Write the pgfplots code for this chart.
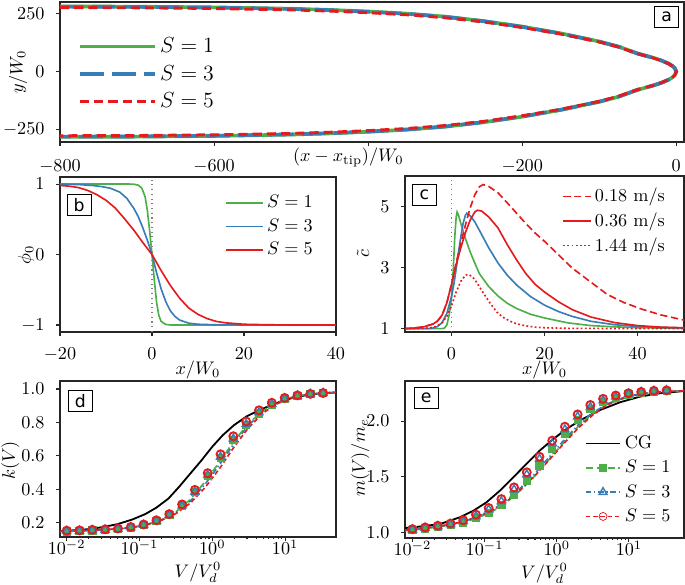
\documentclass[border=0pt]{standalone}
\usepackage{fontspec}
\usepackage{pgfplots}
\pgfplotsset{compat=1.18}
\usepackage{pgfplotstable}
\newfontfamily\lettersf{DejaVu Sans}
\definecolor{cgreen}{HTML}{4DAF4A}
\definecolor{cblue}{HTML}{377EB8}
\definecolor{cred}{HTML}{E41A1C}

\pgfplotstableread{
V s1 s3 s5
0.01 0.149 0.150 0.153
0.015 0.151 0.152 0.155
0.0225 0.154 0.155 0.158
0.03375 0.157 0.158 0.161
0.0506 0.162 0.163 0.166
0.0759 0.171 0.172 0.175
0.1139 0.186 0.187 0.190
0.1709 0.210 0.211 0.215
0.2563 0.248 0.247 0.252
0.3844 0.303 0.302 0.310
0.5767 0.385 0.385 0.397
0.8650 0.480 0.485 0.497
1.2975 0.590 0.595 0.610
1.9462 0.695 0.703 0.718
2.9193 0.785 0.790 0.806
4.3789 0.855 0.860 0.873
6.5684 0.906 0.910 0.918
9.8526 0.940 0.942 0.947
14.779 0.958 0.960 0.962
22.168 0.969 0.970 0.971
33.253 0.975 0.976 0.976
}\dtab

\pgfplotstableread{
V s1 s3 s5
0.01 1.020 1.025 1.030
0.015 1.035 1.040 1.045
0.0225 1.050 1.055 1.060
0.03375 1.065 1.073 1.080
0.0506 1.090 1.100 1.110
0.0759 1.130 1.145 1.160
0.1139 1.175 1.205 1.220
0.1709 1.245 1.280 1.300
0.2563 1.335 1.385 1.405
0.3844 1.460 1.520 1.540
0.5767 1.600 1.660 1.680
0.8650 1.750 1.800 1.825
1.2975 1.885 1.925 1.950
1.9462 2.010 2.040 2.060
2.9193 2.110 2.125 2.145
4.3789 2.170 2.185 2.200
6.5684 2.210 2.220 2.230
9.8526 2.240 2.245 2.250
14.779 2.255 2.260 2.262
22.168 2.265 2.270 2.272
33.253 2.270 2.275 2.276
}\etab

\pgfplotsset{
  every axis/.append style={
    scale only axis,
    axis line style={black!85, line width=0.6pt},
    tick align=outside,
    tick pos=left,
    major tick length=2pt,
    minor tick length=1.2pt,
    every tick/.style={black!85, line width=0.6pt},
    yticklabel style={xshift=-3pt},
  },
  legSone/.style={legend image code/.code={\draw[cgreen, line width=0.9pt, dash pattern=on 4pt off 2pt] (0pt,0pt) -- (19pt,0pt);
    \draw[##1] plot coordinates {(9.5pt,0pt)};}},
  legSthree/.style={legend image code/.code={\draw[cblue, line width=0.9pt, dash pattern=on 3pt off 1.5pt on 0.8pt off 1.5pt] (0pt,0pt) -- (19pt,0pt);
    \draw[##1] plot coordinates {(9.5pt,0pt)};}},
  legSfive/.style={legend image code/.code={\draw[cred, line width=0.9pt, dash pattern=on 2.5pt off 1.5pt] (0pt,0pt) -- (19pt,0pt);
    \draw[##1, mark options={fill=white}] plot coordinates {(9.5pt,0pt)};}},
}
\tikzset{
  panel/.style={draw=black, line width=0.5pt, font=\lettersf\fontsize{9.5}{10}\selectfont,
    inner sep=0pt, minimum width=13pt, minimum height=11.5pt, fill=white},
}

\begin{document}
\begin{tikzpicture}
\useasboundingbox (0,0) rectangle (376.75pt,-321.2pt);

% ---------------- panel a ----------------
\begin{axis}[
  at={(33pt,-1.1pt)}, anchor=north west,
  width=343.2pt, height=77pt,
  xmin=-800, xmax=10, ymin=-303, ymax=300,
  xtick={-800,-600,-400,-200,0},
  xticklabels={$-800$,$-600$,,$-200$,$0$},
  xticklabel style={yshift=-4pt},
  ytick={-250,0,250},
  xlabel={$(x-x_{\mathrm{tip}})/W_0$},
  xlabel style={at={(axis description cs:0.462,0)}, anchor=center, yshift=-8.3pt},
  ylabel={$y/W_0$},
  ylabel style={at={(axis description cs:-0.067,0.5)}, anchor=center},
  legend style={at={(axis description cs:0.02,0.8)}, anchor=north west, draw=none, fill=none,
    font=\large, row sep=1.5pt},
  legend cell align=left,
  legend image code/.code={\draw[#1] (0pt,0pt) -- (41pt,0pt);},
]
\addplot[cgreen, line width=2pt] coordinates {
(-800,281) (-700,280) (-600,277) (-500,271) (-450,266) (-400,259) (-350,250) (-300,237)
(-250,218) (-200,194) (-150,165) (-100,130) (-75,108) (-50,78) (-30,60) (-20,49)
(-10,35) (-5,24.5) (-2,15.5) (0,0)
(-2,-15.5) (-5,-24.5) (-10,-35) (-20,-49) (-30,-60) (-50,-78) (-75,-108) (-100,-130)
(-150,-165) (-200,-194) (-250,-218) (-300,-237) (-350,-250) (-400,-259) (-450,-266)
(-500,-271) (-600,-277) (-700,-280) (-800,-281)};
\addlegendentry{$S=1$}
\addplot[cblue, line width=2pt, dash pattern=on 13pt off 4.5pt] coordinates {
(-800,280) (-700,279) (-600,276) (-500,270) (-450,265) (-400,258) (-350,249) (-300,236)
(-250,217) (-200,193) (-150,164) (-100,129) (-75,107.5) (-50,77.5) (-30,59.5) (-20,48.8)
(-10,34.8) (-5,24.4) (-2,15.4) (0,0)
(-2,-15.4) (-5,-24.4) (-10,-34.8) (-20,-48.8) (-30,-59.5) (-50,-77.5) (-75,-107.5) (-100,-129)
(-150,-164) (-200,-193) (-250,-217) (-300,-236) (-350,-249) (-400,-258) (-450,-265)
(-500,-270) (-600,-276) (-700,-279) (-800,-280)};
\addlegendentry{$S=3$}
\addplot[cred, line width=1.6pt, dash pattern=on 5pt off 2.8pt] coordinates {
(-800,276) (-700,275) (-600,272) (-500,266) (-450,261) (-400,254) (-350,245) (-300,232)
(-250,214) (-200,190) (-150,162) (-100,128) (-75,106) (-50,77) (-30,59) (-20,48)
(-10,34) (-5,24) (-2,15) (0,0)
(-2,-15) (-5,-24) (-10,-34) (-20,-48) (-30,-59) (-50,-77) (-75,-106) (-100,-128)
(-150,-162) (-200,-190) (-250,-214) (-300,-232) (-350,-245) (-400,-254) (-450,-261)
(-500,-266) (-600,-272) (-700,-275) (-800,-276)};
\addlegendentry{$S=5$}
\node[panel, anchor=north east] at (axis description cs:0.992,0.97) {a};
\end{axis}

% ---------------- panel b ----------------
\begin{axis}[
  at={(33pt,-97.35pt)}, anchor=north west,
  width=151.8pt, height=85.25pt,
  xmin=-20, xmax=40, ymin=-1.1, ymax=1.1,
  xtick={-20,0,20,40}, ytick={-1,0,1},
  xticklabel style={yshift=-3pt},
  xlabel={$x/W_0$},
  xlabel style={at={(axis description cs:0.5,0)}, anchor=center, yshift=-21pt},
  ylabel={$\phi_0$},
  ylabel style={at={(axis description cs:-0.123,0.5)}, anchor=center},
  legend style={at={(axis description cs:0.95,0.93)}, anchor=north east, draw=none, fill=none, row sep=0.5pt},
  legend cell align=left,
  legend image code/.code={\draw[#1] (0pt,0pt) -- (20pt,0pt);},
]
\addplot[gray, dotted, line width=0.6pt, forget plot] coordinates {(0,-1.1) (0,1.1)};
\addplot[cgreen, line width=0.9pt] coordinates {
(-20,1) (-5,1) (-4,0.998) (-3,0.985) (-2.2,0.94) (-1.5,0.82) (-1,0.62) (-0.5,0.33) (0,0)
(0.5,-0.36) (1,-0.68) (1.5,-0.87) (2,-0.95) (3,-0.993) (4,-1) (40,-1)};
\addlegendentry{$S=1$}
\addplot[cblue, line width=0.9pt] coordinates {
(-20,0.998) (-16,0.993) (-13,0.98) (-11,0.965) (-9,0.94) (-7,0.885) (-5.5,0.8) (-4,0.66)
(-3,0.54) (-2,0.38) (-1,0.2) (0,0) (1,-0.26) (2,-0.49) (3,-0.67) (4,-0.8) (5,-0.88)
(6,-0.93) (8,-0.975) (10,-0.99) (14,-0.998) (20,-1) (40,-1)};
\addlegendentry{$S=3$}
\addplot[cred, line width=0.9pt] coordinates {
(-20,0.98) (-18,0.97) (-16,0.95) (-14,0.91) (-12,0.85) (-10,0.77) (-8,0.66) (-6,0.51)
(-4,0.35) (-2,0.17) (0,0) (2,-0.23) (4,-0.44) (6,-0.62) (8,-0.76) (10,-0.85) (12,-0.91)
(14,-0.95) (16,-0.97) (20,-0.99) (25,-0.997) (30,-1) (40,-1)};
\addlegendentry{$S=5$}
\node[panel, anchor=north west] at (axis description cs:0.025,0.89) {b};
\end{axis}

% ---------------- panel c ----------------
\begin{axis}[
  at={(222.75pt,-96.8pt)}, anchor=north west,
  width=153.45pt, height=85.8pt,
  xmin=-10, xmax=50, ymin=0.89, ymax=6.0,
  xtick={0,20,40}, ytick={1,3,5},
  xticklabel style={yshift=-3pt},
  xlabel={$x/W_0$},
  xlabel style={at={(axis description cs:0.5,0)}, anchor=center, yshift=-21pt},
  ylabel={$\tilde{c}$},
  ylabel style={at={(axis description cs:-0.15,0.5)}, anchor=center},
  legend style={at={(axis description cs:0.965,0.97)}, anchor=north east, draw=none, fill=none, row sep=0.5pt},
  legend cell align=left,
  legend image code/.code={\draw[#1] (0pt,0pt) -- (15pt,0pt);},
]
\addplot[gray, dotted, line width=0.6pt, forget plot] coordinates {(0,0.89) (0,6.0)};
\addplot[cgreen, line width=0.9pt, forget plot] coordinates {
(-10,1) (-3,1) (-2,1.0) (-1.5,1.02) (-1,1.12) (-0.5,1.45) (0,2.0) (0.4,3.0) (0.7,4.0)
(1.0,4.65) (1.2,4.82) (1.5,4.72) (2,4.45) (3,3.95) (4,3.52) (5,3.15) (6,2.8) (8,2.38)
(10,2.07) (12,1.83) (14,1.66) (17,1.47) (20,1.35) (25,1.19) (30,1.1) (35,1.06) (40,1.03) (50,1.01)};
\addplot[cblue, line width=0.9pt, forget plot] coordinates {
(-10,1) (-5,1.0) (-4,1.02) (-3,1.07) (-2,1.2) (-1,1.5) (0,2.05) (0.5,2.45) (1,2.95) (1.5,3.5)
(2,4.0) (2.5,4.45) (3,4.72) (3.3,4.78) (4,4.7) (5,4.5) (6,4.22) (8,3.65) (10,3.15) (12,2.75)
(14,2.43) (17,2.05) (20,1.77) (23,1.56) (26,1.4) (30,1.24) (35,1.13) (40,1.07) (45,1.04) (50,1.02)};
\addplot[cred, line width=0.9pt, dash pattern=on 4pt off 2pt] coordinates {
(-10,1.0) (-8,1.02) (-6,1.06) (-4,1.15) (-3,1.25) (-2,1.45) (-1,1.85) (0,2.45) (1,3.15) (2,3.8)
(3,4.4) (4,4.95) (5,5.38) (6,5.65) (6.8,5.72) (8,5.66) (10,5.45) (12,5.12) (14,4.78) (16,4.44)
(18,4.13) (20,3.86) (23,3.42) (26,2.98) (30,2.52) (33.5,2.12) (37,1.86) (40.7,1.65) (45,1.45) (50,1.28)};
\addlegendentry{0.18 m/s}
\addplot[cred, line width=0.9pt] coordinates {
(-10,1.0) (-8,1.02) (-6,1.06) (-4,1.15) (-3,1.25) (-2,1.45) (-1,1.85) (0,2.45) (1,3.1) (2,3.65)
(3,4.15) (4,4.55) (5,4.82) (5.6,4.88) (6.5,4.85) (8,4.66) (10,4.3) (12,3.75) (14,3.25) (16,2.8)
(18,2.45) (20,2.2) (23,1.88) (26,1.62) (30,1.38) (35,1.2) (40,1.1) (45,1.05) (50,1.03)};
\addlegendentry{0.36 m/s}
\addplot[cred, line width=0.9pt, dash pattern=on 1pt off 1.3pt] coordinates {
(-10,1.0) (-6,1.01) (-4,1.04) (-3,1.1) (-2,1.2) (-1,1.4) (0,1.75) (1,2.2) (2,2.55) (3,2.75)
(3.6,2.78) (4.5,2.7) (5.5,2.5) (6.5,2.25) (8,1.9) (9.7,1.55) (11,1.38) (12.5,1.25) (14,1.16)
(16,1.09) (18,1.05) (20,1.03) (25,1.01) (50,1.0)};
\addlegendentry{1.44 m/s}
\node[panel, anchor=north west] at (axis description cs:0.025,0.95) {c};
\end{axis}

% ---------------- panel d ----------------
\begin{axis}[
  at={(33pt,-209.55pt)}, anchor=north west,
  width=151.8pt, height=85.8pt,
  xmode=log, xmin=0.0081, xmax=50, ymin=0.115, ymax=1.048,
  xtick={0.01,0.1,1,10},
  xticklabel style={yshift=4pt},
  ytick={0.2,0.4,0.6,0.8,1.0},
  y tick label style={/pgf/number format/fixed, /pgf/number format/fixed zerofill, /pgf/number format/precision=1},
  xlabel={$V/V_d^0$},
  xlabel style={at={(axis description cs:0.5,0)}, anchor=center, yshift=-19.6pt},
  ylabel={$k(V)$},
  ylabel style={at={(axis description cs:-0.18,0.49)}, anchor=center},
]
\addplot[black, line width=1pt] coordinates {
(0.008,0.15) (0.01,0.152) (0.02,0.162) (0.03,0.173) (0.05,0.192) (0.08,0.22) (0.12,0.252)
(0.17,0.29) (0.25,0.345) (0.35,0.415) (0.5,0.495) (0.7,0.57) (1.0,0.655) (1.4,0.725)
(2.0,0.785) (3.0,0.838) (4.5,0.875) (7,0.91) (10,0.935) (15,0.955) (25,0.97) (50,0.98)};
\addplot[cgreen, line width=0.9pt, dash pattern=on 4pt off 2pt] coordinates {
(0.008,0.147) (0.0125,0.150) (0.02,0.153) (0.0316,0.157) (0.05,0.162) (0.0794,0.172) (0.126,0.189)
(0.2,0.218) (0.316,0.265) (0.5,0.34) (0.794,0.445) (1.26,0.565) (2.0,0.69) (3.16,0.795)
(5.01,0.872) (7.94,0.922) (12.6,0.952) (20,0.968) (31.6,0.976) (50,0.98)};
\addplot[cblue, line width=0.9pt, dash pattern=on 3pt off 1.5pt on 0.8pt off 1.5pt] coordinates {
(0.008,0.148) (0.0125,0.151) (0.02,0.154) (0.0316,0.158) (0.05,0.163) (0.0794,0.172) (0.126,0.189)
(0.2,0.217) (0.316,0.262) (0.5,0.33) (0.794,0.43) (1.26,0.548) (2.0,0.675) (3.16,0.785)
(5.01,0.866) (7.94,0.918) (12.6,0.95) (20,0.967) (31.6,0.976) (50,0.98)};
\addplot[cred, line width=0.9pt, dash pattern=on 2.5pt off 1.5pt] coordinates {
(0.008,0.15) (0.0125,0.152) (0.02,0.155) (0.0316,0.159) (0.05,0.164) (0.0794,0.173) (0.126,0.189)
(0.2,0.215) (0.316,0.255) (0.5,0.318) (0.794,0.41) (1.26,0.525) (2.0,0.655) (3.16,0.77)
(5.01,0.858) (7.94,0.914) (12.6,0.948) (20,0.966) (31.6,0.975) (50,0.98)};
\addplot[cgreen, only marks, mark=square*, mark size=2pt] table[x=V, y=s1] {\dtab};
\addplot[cblue, only marks, mark=triangle, mark size=2.5pt, mark options={line width=0.8pt}] table[x=V, y=s3] {\dtab};
\addplot[cred, only marks, mark=o, mark size=2.2pt, mark options={line width=1pt}] table[x=V, y=s5] {\dtab};
\node[panel, anchor=north west] at (axis description cs:0.029,0.94) {d};
\end{axis}

% ---------------- panel e ----------------
\begin{axis}[
  at={(222.75pt,-209.55pt)}, anchor=north west,
  width=153.45pt, height=86.35pt,
  xmode=log, xmin=0.0079, xmax=58, ymin=0.95, ymax=2.36,
  xtick={0.01,0.1,1,10},
  xticklabel style={yshift=4pt},
  ytick={1.0,1.5,2.0},
  y tick label style={/pgf/number format/fixed, /pgf/number format/fixed zerofill, /pgf/number format/precision=1},
  xlabel={$V/V_d^0$},
  xlabel style={at={(axis description cs:0.5,0)}, anchor=center, yshift=-19.6pt},
  ylabel={$m(V)/m_e$},
  ylabel style={at={(axis description cs:-0.16,0.51)}, anchor=center},
  legend style={at={(axis description cs:0.985,0.70)}, anchor=north east, draw=none, fill=none, row sep=1pt},
  legend cell align=left,
  legend image code/.code={\draw[#1] (0pt,0pt) -- (19pt,0pt);},
]
\addplot[black, line width=1pt] coordinates {
(0.0079,1.04) (0.01,1.045) (0.024,1.075) (0.045,1.135) (0.07,1.195) (0.106,1.27) (0.163,1.375)
(0.25,1.495) (0.38,1.615) (0.58,1.735) (0.9,1.84) (1.37,1.93) (2.1,2.006) (4.0,2.10)
(7.6,2.17) (14.3,2.22) (27,2.25) (58,2.27)};
\addlegendentry{CG}
\addplot[cgreen, line width=0.9pt, dash pattern=on 4pt off 2pt, forget plot] coordinates {
(0.0079,1.015) (0.0125,1.028) (0.02,1.045) (0.0316,1.062) (0.05,1.088) (0.0794,1.13) (0.126,1.185)
(0.2,1.268) (0.316,1.38) (0.5,1.51) (0.794,1.66) (1.26,1.81) (2.0,1.955) (3.16,2.065)
(5.01,2.15) (7.94,2.2) (12.6,2.235) (20,2.255) (31.6,2.265) (58,2.272)};
\addplot[cblue, line width=0.9pt, dash pattern=on 3pt off 1.5pt on 0.8pt off 1.5pt, forget plot] coordinates {
(0.0079,1.02) (0.0125,1.033) (0.02,1.05) (0.0316,1.068) (0.05,1.095) (0.0794,1.14) (0.126,1.2)
(0.2,1.285) (0.316,1.4) (0.5,1.53) (0.794,1.68) (1.26,1.83) (2.0,1.97) (3.16,2.075)
(5.01,2.155) (7.94,2.205) (12.6,2.238) (20,2.257) (31.6,2.267) (58,2.273)};
\addplot[cred, line width=0.9pt, dash pattern=on 2.5pt off 1.5pt, forget plot] coordinates {
(0.0079,1.022) (0.0125,1.035) (0.02,1.052) (0.0316,1.07) (0.05,1.097) (0.0794,1.14) (0.126,1.195)
(0.2,1.275) (0.316,1.385) (0.5,1.51) (0.794,1.655) (1.26,1.80) (2.0,1.94) (3.16,2.055)
(5.01,2.145) (7.94,2.2) (12.6,2.235) (20,2.255) (31.6,2.266) (58,2.272)};
\addplot[cgreen, only marks, mark=square*, mark size=2pt, legSone] table[x=V, y=s1] {\etab};
\addlegendentry{$S=1$}
\addplot[cblue, only marks, mark=triangle, mark size=2.5pt, mark options={line width=0.8pt, fill=white}, legSthree] table[x=V, y=s3] {\etab};
\addlegendentry{$S=3$}
\addplot[cred, only marks, mark=o, mark size=2.2pt, mark options={line width=1pt}, legSfive] table[x=V, y=s5] {\etab};
\addlegendentry{$S=5$}
\node[panel, anchor=north west] at (axis description cs:0.032,0.96) {e};
\end{axis}
\end{tikzpicture}
\end{document}
